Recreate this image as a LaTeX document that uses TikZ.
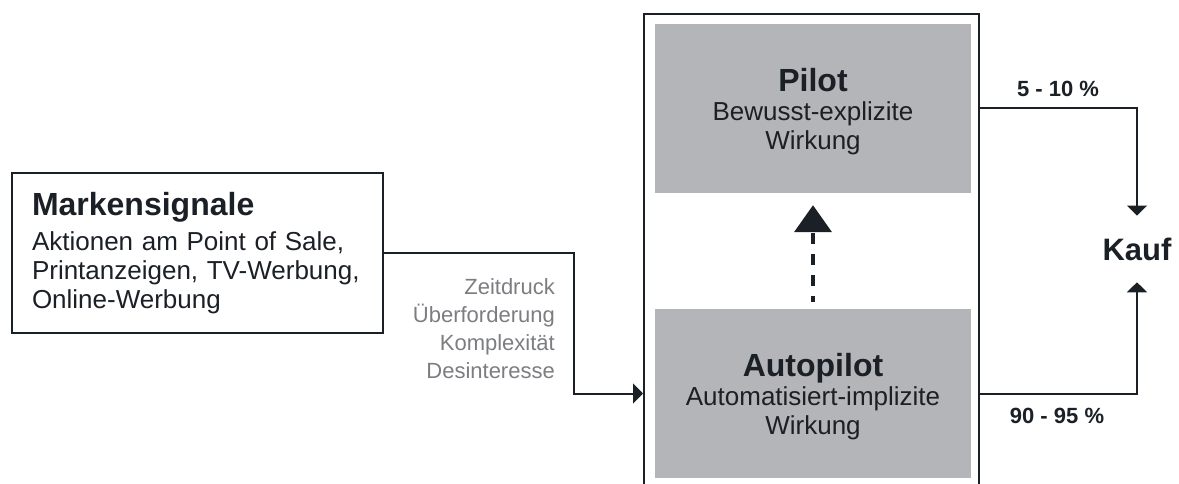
\documentclass[tikz,border=0pt]{standalone}
\usepackage{fontspec}
\setmainfont{Liberation Sans}
\usetikzlibrary{arrows.meta}

\definecolor{ink}{HTML}{1B2026}
\definecolor{panel}{HTML}{B3B5B8}
\definecolor{cause}{HTML}{7B7D81}

\newcommand{\headfont}{\fontsize{32}{29}\selectfont\bfseries}
\newcommand{\bodyfont}{\fontsize{26}{29}\selectfont}
% extra room above a panel heading, lowers the text block a little
\newcommand{\headroom}{\rule{0pt}{29pt}}

\begin{document}
\begin{tikzpicture}[x=1pt, y=-1pt,
  line/.style={draw=ink, line width=2pt},
  flow/.style={line, -{Triangle[length=10pt, width=20pt]}},
  frame/.style={line, inner sep=0pt},
  panelbox/.style={fill=panel, minimum width=316pt, minimum height=169pt,
    inner sep=0pt, align=center, font=\bodyfont, text=ink},
  hint/.style={draw=ink, line width=4pt, dash pattern=on 11pt off 10pt,
    dash phase=5pt, -{Triangle[length=27pt, width=37pt]}},
  pct/.style={font=\fontsize{22}{22}\selectfont\bfseries, text=ink, inner sep=0pt, anchor=base}
]
\useasboundingbox (0,0) rectangle (1179,484);
\clip (0,0) rectangle (1179,484);

% brand signals
\node[frame, text width=331pt, inner xsep=20pt, minimum height=160pt,
      align=left, font=\bodyfont, text=ink] (signale) at (197.5,253)
  {{\headfont Markensignale}\\[6pt]Aktionen am Point of Sale,\\Printanzeigen, TV-Werbung,\\Online-Werbung};

% processing system with its two modes
\node[frame, minimum width=335pt, minimum height=480pt] (system) at (811.5,254) {};
\node[panelbox] (pilot) at (813,108.5)
  {{\headfont\headroom Pilot}\\Bewusst-explizite\\Wirkung};
\node[panelbox] (autopilot) at (813,393.5)
  {{\headfont\headroom Autopilot}\\Automatisiert-implizite\\Wirkung};

% conditions favouring the autopilot
\node[font=\fontsize{22}{28}\selectfont, text=cause, align=right,
      anchor=north east, inner sep=0pt] (causes) at (555,278)
  {Zeitdruck\\Überforderung\\Komplexität\\Desinteresse};

% purchase
\node[font=\fontsize{31}{31}\selectfont\bfseries, text=ink, inner sep=0pt,
      outer ysep=22pt, anchor=base] (kauf) at (1137,260) {Kauf};

% connectors
\draw[flow] (signale.east) -- ++(190,0) |- (system.west |- autopilot.center);
\draw[hint] ([yshift=7pt]autopilot.north) -- ([yshift=-12pt]pilot.south);
\draw[flow] (system.east |- pilot.center) -| (kauf.north);
\draw[flow] (system.east |- autopilot.center) -| (kauf.south);

% shares
\node[pct] (share-pilot) at (1058,97) {5 - 10 \%};
\node[pct] (share-auto) at (1057,423) {90 - 95 \%};
\end{tikzpicture}
\end{document}
